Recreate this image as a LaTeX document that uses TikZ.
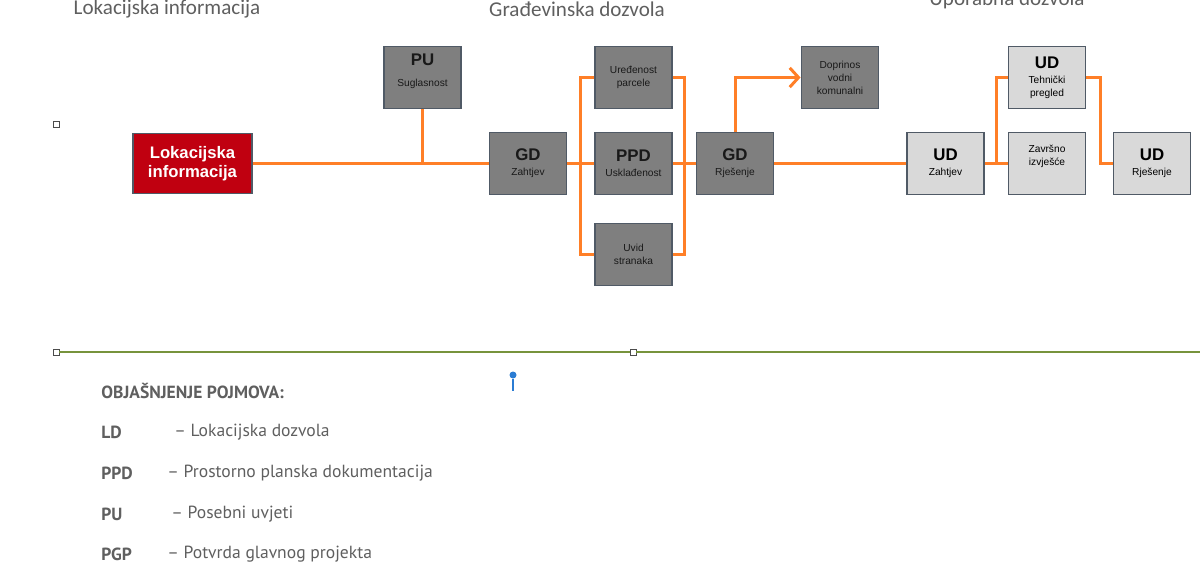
\documentclass[tikz,border=0pt]{standalone}
\usepackage{fontspec}
\setmainfont{Liberation Sans}
\newfontfamily\titlefont{Carlito}
\newfontfamily\legendfont{PT Sans}
\usetikzlibrary{arrows.meta,positioning}

\definecolor{boxred}{RGB}{192,0,16}
\definecolor{boxgrey}{RGB}{127,127,127}
\definecolor{boxlight}{RGB}{217,217,217}
\definecolor{boxline}{RGB}{80,90,102}
\definecolor{linkorange}{RGB}{255,127,39}
\definecolor{titlegrey}{RGB}{95,95,95}
\definecolor{rulegreen}{RGB}{119,147,60}
\definecolor{pinblue}{RGB}{43,124,211}

\newcommand{\hd}[1]{{\bfseries\fontsize{9.6}{10}\selectfont #1}\\[1pt]}

\begin{document}
\begin{tikzpicture}[x=0.02cm,y=-0.02cm,>={Straight Barb[length=5pt,width=11pt]},
    box/.style={draw=boxline,line width=1.1pt,minimum width=1.54cm,minimum height=1.24cm,
        align=center,inner sep=1pt,font=\fontsize{5.8}{7.4}\selectfont},
    darkbox/.style={box,fill=boxgrey,text=black!90},
    lightbox/.style={box,fill=boxlight,text=black},
    redbox/.style={box,fill=boxred,text=white,minimum width=2.38cm,minimum height=1.2cm,
        font=\bfseries\fontsize{9.5}{10.8}\selectfont},
    link/.style={draw=linkorange,line width=1.7pt},
    title/.style={text=titlegrey,font=\titlefont\fontsize{12}{14}\selectfont},
    legend/.style={anchor=west,text=titlegrey,inner sep=0pt,font=\legendfont\fontsize{10}{12}\selectfont},
    handle/.style={draw=black!70,fill=white,line width=0.5pt,minimum size=0.12cm,inner sep=0pt}]
    \useasboundingbox (0,0) rectangle (1200,578);

    % naslovi
    \node   [title]     (tli)   at (167,9)      {Lokacijska informacija};
    \node   [title]     (tgd)   at (577,9)      {Građevinska dozvola};
    \node   [title]     (tud)   at (1007,0)     {Uporabna dozvola};

    % kutije
    \node   [redbox]    (li)    at (192.5,163.5){Lokacijska\\informacija};
    \node   [darkbox]   (pu)    at (422.5,77.5) {{\bfseries\fontsize{9.6}{10}\selectfont PU}\\[5pt]Suglasnost\\[1pt]};
    \node   [darkbox]   (gdz)   at (528,163.5)  {\hd{GD}Zahtjev};
    \node   [darkbox]   (ure)   at (633.5,77.5) {Uređenost\\parcele};
    \node   [darkbox]   (ppd)   at (633.5,163.5){\hd{PPD}Usklađenost};
    \node   [darkbox]   (uvid)  at (633.5,254.5){Uvid\\stranaka};
    \node   [darkbox]   (gdr)   at (735,163.5)  {\hd{GD}Rješenje};
    \node   [darkbox]   (dop)   at (840,77.5)   {Doprinos\\vodni\\komunalni};
    \node   [lightbox]  (udz)   at (945.5,163.5){\hd{UD}Zahtjev};
    \node   [lightbox]  (teh)   at (1047,77.5)  {\hd{UD}Tehnički\\pregled};
    \node   [lightbox]  (zav)   at (1047,163.5) {Završno\\izvješće\\[2pt]};
    \node   [lightbox]  (udr)   at (1152,163.5) {\hd{UD}Rješenje};

    % cvorista
    \coordinate (jl) at (580,163.5);
    \coordinate (jr) at (684,163.5);
    \coordinate (ju) at (996,163.5);
    \coordinate (jt) at (1100,120);

    % veze
    \draw   [link]  (li) -- (gdz);
    \draw   [link]  (pu) -- (pu |- li);
    \draw   [link]  (gdz) -- (ppd);
    \draw   [link]  (ure.west) -| (jl) |- (uvid.west);
    \draw   [link]  (ure.east) -| (jr) |- (uvid.east);
    \draw   [link]  (ppd) -- (gdr);
    \draw   [link,->]   (gdr) |- (dop);
    \draw   [link]  (gdr) -- (udz);
    \draw   [link]  (udz) -- (zav);
    \draw   [link]  (ju) |- (teh.west);
    \draw   [link]  (teh.east) -| (jt) |- (udr.west);

    % crta i oznake
    \node   [handle]    (h1)    at (56,124)     {};
    \node   [handle]    (h2)    at (56,352)     {};
    \node   [handle]    (h3)    at (633,352)    {};
    \draw   [rulegreen,line width=1.1pt] (h2) -- (h3) -- (1200,352);
    \node   [circle,fill=pinblue,inner sep=0pt,minimum size=0.14cm] (pin) at (513,375) {};
    \draw   [pinblue,line width=0.8pt] (pin) -- (513,391);

    % objasnjenje
    \node   [legend]    (leg)   at (101,391)    {\bfseries OBJAŠNJENJE POJMOVA:};
    \node   [legend]    (k1)    at (101,432)    {\bfseries LD};
    \node   [legend]    (v1)    at (174,432)    {– Lokacijska dozvola};
    \node   [legend]    (k2)    at (101,473)    {\bfseries PPD};
    \node   [legend]    (v2)    at (167,473)    {– Prostorno planska dokumentacija};
    \node   [legend]    (k3)    at (101,514)    {\bfseries PU};
    \node   [legend]    (v3)    at (171,514)    {– Posebni uvjeti};
    \node   [legend]    (k4)    at (101,554)    {\bfseries PGP};
    \node   [legend]    (v4)    at (167,554)    {– Potvrda glavnog projekta};
\end{tikzpicture}
\end{document}
